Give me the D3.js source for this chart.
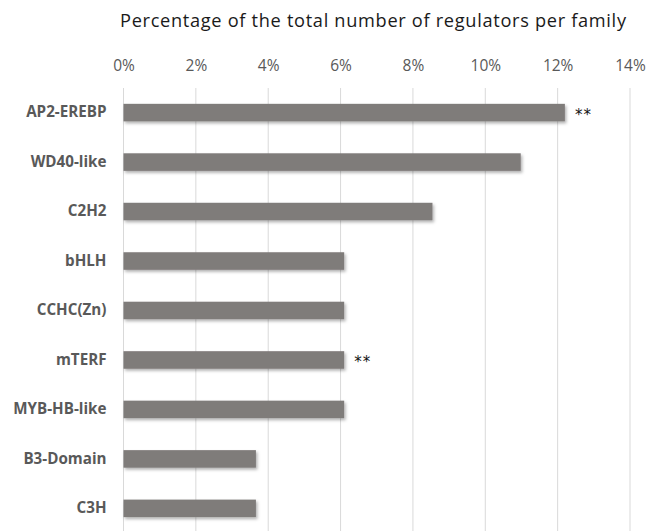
<!DOCTYPE html>
<html>
<head>
<meta charset="utf-8">
<script src="https://cdn.jsdelivr.net/npm/d3@7"></script>
<style>
  html, body { margin: 0; padding: 0; background: #fff; }
  svg { display: block; }
</style>
</head>
<body>
<div id="chart"></div>
<script>
// Regulator families and their share of all regulators (%)
const families = ["AP2-EREBP", "WD40-like", "C2H2", "bHLH", "CCHC(Zn)", "mTERF", "MYB-HB-like", "B3-Domain", "C3H"];
const percentages = [12.20, 10.98, 8.54, 6.10, 6.10, 6.10, 6.10, 3.66, 3.66];
const significance = ["**", "", "", "", "", "**", "", "", ""];
const tickValues = [0, 2, 4, 6, 8, 10, 12, 14];
const chartTitle = "Percentage of the total number of regulators per family";

const width = 647, height = 531;
const margin = { top: 88, right: 17, bottom: 0, left: 123.5 };
const font = "'Open Sans', Lato, sans-serif";

const svg = d3.select("#chart").append("svg")
  .attr("width", width)
  .attr("height", height);

// soft drop shadow under the bars
const defs = svg.append("defs");
const shadow = defs.append("filter").attr("id", "barShadow")
  .attr("x", "-5%").attr("y", "-30%").attr("width", "115%").attr("height", "180%");
shadow.append("feDropShadow")
  .attr("dx", 1.5).attr("dy", 2).attr("stdDeviation", 1.4)
  .attr("flood-color", "#000").attr("flood-opacity", 0.3);

const x = d3.scaleLinear()
  .domain([0, 14])
  .range([margin.left, width - margin.right]);

const y = d3.scaleBand()
  .domain(families)
  .range([margin.top, height + 2])
  .paddingInner(0.645)
  .paddingOuter(0.32);

// title
svg.append("text")
  .attr("x", 373)
  .attr("y", 27)
  .attr("text-anchor", "middle")
  .attr("font-family", font)
  .attr("font-size", 18.2)
  .attr("fill", "#1a1a1a")
  .attr("textLength", 506)
  .attr("lengthAdjust", "spacing")
  .text(chartTitle);

// top percentage axis
const xAxis = d3.axisTop(x)
  .tickValues(tickValues)
  .tickFormat(d => d + "%")
  .tickSize(0)
  .tickPadding(0);

const axisG = svg.append("g")
  .attr("transform", "translate(0,71)")
  .call(xAxis);
axisG.select(".domain").remove();
axisG.selectAll("text")
  .attr("font-family", font)
  .attr("font-size", 15.5)
  .attr("fill", "#595959");

// vertical gridlines
svg.append("g")
  .selectAll("line")
  .data(tickValues)
  .join("line")
  .attr("x1", d => x(d)).attr("x2", d => x(d))
  .attr("y1", margin.top).attr("y2", height)
  .attr("stroke", "#d9d9d9")
  .attr("stroke-width", 1);

// bars
svg.append("g")
  .selectAll("rect")
  .data(families)
  .join("rect")
  .attr("x", x(0))
  .attr("y", d => y(d))
  .attr("width", (d, i) => x(percentages[i]) - x(0))
  .attr("height", y.bandwidth())
  .attr("fill", "#7f7b7a")
  .attr("filter", "url(#barShadow)");

// category labels
const yAxis = d3.axisLeft(y).tickSize(0).tickPadding(17);
const yG = svg.append("g")
  .attr("transform", `translate(${x(0)},0)`)
  .call(yAxis);
yG.select(".domain").remove();
yG.selectAll("text")
  .attr("font-family", font)
  .attr("font-weight", "bold")
  .attr("font-size", 15.2)
  .attr("fill", "#595959");

// significance markers
svg.append("g")
  .selectAll("text")
  .data(families)
  .join("text")
  .attr("x", (d, i) => x(percentages[i]) + 10)
  .attr("y", d => y(d) + y.bandwidth() / 2 + 7)
  .attr("font-family", "'DejaVu Sans', sans-serif")
  .attr("font-size", 15)
  .attr("fill", "#111")
  .attr("letter-spacing", 1)
  .text((d, i) => significance[i]);
</script>
</body>
</html>
